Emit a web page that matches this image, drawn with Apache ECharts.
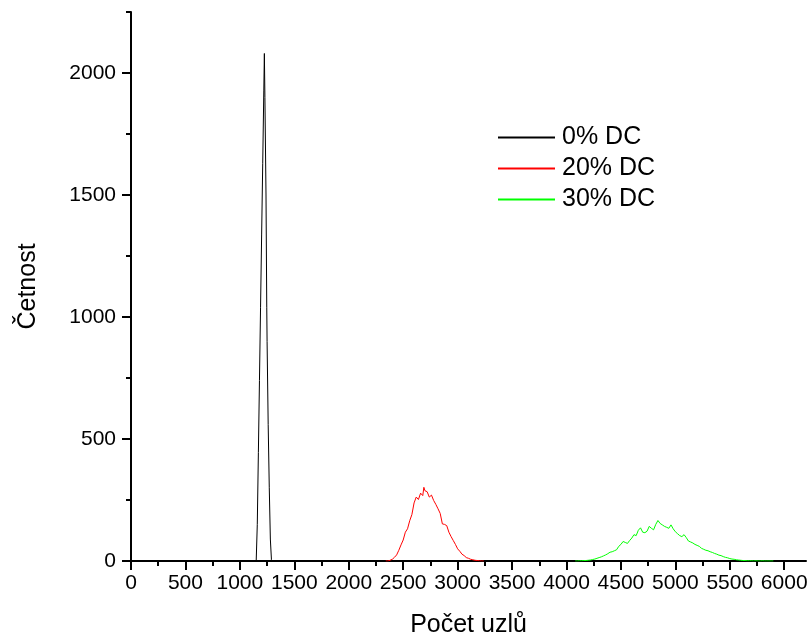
<!DOCTYPE html>
<html><head><meta charset="utf-8">
<script src="https://cdn.jsdelivr.net/npm/echarts@6/dist/echarts.min.js"></script>
<style>html,body{margin:0;padding:0;background:#fff}#c{width:808px;height:641px}</style>
</head><body><div id="c"></div>
<script>
var xMajorTicks = [0,500,1000,1500,2000,2500,3000,3500,4000,4500,5000,5500,6000];
var xMinorTicks = [250,750,1250,1750,2250,2750,3250,3750,4250,4750,5250,5750];
var yMajorTicks = [0,500,1000,1500,2000];
var yMinorTicks = [250,750,1250,1750,2250];
var seriesNames = ['0% DC','20% DC','30% DC'];

var blackX = [1150,1155,1160,1170,1180,1190,1200,1210,1220,1225,1230,1240,1247,1250,1260,1270,1280,1290,1300];
var blackY = [0,2,150,445,740,1040,1340,1630,1930,2080,1900,1500,1040,900,560,300,90,5,0];

var redX = [2340,2360,2380,2400,2420,2440,2460,2480,2500,2520,2540,2560,2580,2600,2620,2640,2660,2680,2690,2700,2720,2740,2760,2780,2800,2820,2840,2860,2880,2900,2920,2940,2960,2980,3000,3020,3040,3060,3080,3100,3120,3140,3160,3180,3200,3220,3240];
var redY = [0,0,3,7,15,25,44,66,86,118,132,165,190,238,262,252,278,268,302,288,284,262,270,248,232,214,195,152,150,145,118,100,84,68,50,40,28,22,14,11,7,5,3,2,1,0,0];

var greenX = [4080,4100,4120,4140,4160,4180,4200,4220,4240,4260,4280,4300,4320,4340,4360,4380,4400,4420,4440,4460,4480,4500,4520,4540,4560,4580,4600,4620,4640,4660,4680,4700,4720,4740,4760,4780,4800,4820,4840,4860,4880,4900,4920,4940,4960,4980,5000,5020,5040,5060,5080,5100,5120,5140,5160,5180,5200,5220,5240,5260,5280,5300,5320,5340,5360,5380,5400,5420,5440,5460,5480,5500,5520,5540,5560,5580,5600,5620,5640,5660,5680,5700,5720,5740,5760,5780,5800,5820,5840,5860,5880,5900];
var greenY = [0,0,1,1,2,2,3,4,6,8,11,14,17,21,25,30,36,38,42,46,60,68,80,76,72,84,94,108,104,126,136,118,116,122,142,134,128,150,166,154,148,142,138,134,148,132,120,112,104,100,108,96,82,78,74,68,64,60,52,48,44,42,38,35,31,28,24,22,18,15,13,10,8,7,5,4,3,2,2,1,1,1,0,1,0,0,1,0,0,0,0,0];

function pairs(xs, ys) { var out = []; for (var i = 0; i < xs.length; i++) out.push([xs[i], ys[i]]); return out; }
function plain(v) { return String(v); }

var FONT = 'Liberation Sans, Arial, sans-serif';
var chart = echarts.init(document.getElementById('c'), null, {renderer: 'canvas'});
chart.setOption({
  animation: false,
  backgroundColor: '#fff',
  grid: {left: 131, right: 2, top: 12, bottom: 80, containLabel: false, outerBoundsMode: 'none'},
  legend: {
    data: seriesNames, orient: 'vertical', left: 493, top: 120,
    icon: 'rect', itemWidth: 57, itemHeight: 2, itemGap: 6,
    textStyle: {fontSize: 25, color: '#000', fontFamily: FONT, padding: [0, 0, 0, 2]}
  },
  xAxis: [{
    type: 'value', min: 0, max: 6200, position: 'bottom',
    name: 'Počet uzlů', nameLocation: 'middle', nameGap: 52,
    nameTextStyle: {fontSize: 25, color: '#000', fontFamily: FONT},
    axisLine: {show: true, onZero: false, lineStyle: {color: '#000', width: 2}},
    axisTick: {show: true, inside: false, length: 9, customValues: xMajorTicks, lineStyle: {color: '#000', width: 2}},
    axisLabel: {customValues: xMajorTicks, formatter: plain, fontSize: 21, color: '#000', fontFamily: FONT, margin: 12},
    splitLine: {show: false}
  }, {
    type: 'value', min: 0, max: 6200, position: 'bottom', gridIndex: 0,
    axisLine: {show: false},
    axisTick: {show: true, inside: false, length: 5, customValues: xMinorTicks, lineStyle: {color: '#000', width: 2}},
    axisLabel: {show: false},
    splitLine: {show: false}
  }],
  yAxis: [{
    type: 'value', min: 0, max: 2250, position: 'left',
    name: 'Četnost', nameLocation: 'middle', nameGap: 90, nameRotate: 90,
    nameTextStyle: {fontSize: 25, color: '#000', fontFamily: FONT},
    axisLine: {show: true, onZero: false, lineStyle: {color: '#000', width: 2}},
    axisTick: {show: true, inside: false, length: 9, customValues: yMajorTicks, lineStyle: {color: '#000', width: 2}},
    axisLabel: {customValues: yMajorTicks, formatter: plain, fontSize: 21, color: '#000', fontFamily: FONT, margin: 15},
    splitLine: {show: false}
  }, {
    type: 'value', min: 0, max: 2250, position: 'left', gridIndex: 0,
    axisLine: {show: false},
    axisTick: {show: true, inside: false, length: 5, customValues: yMinorTicks, lineStyle: {color: '#000', width: 2}},
    axisLabel: {show: false},
    splitLine: {show: false}
  }],
  series: [
    {name: seriesNames[0], type: 'line', data: pairs(blackX, blackY), symbol: 'none', lineStyle: {color: '#000', width: 1}, itemStyle: {color: '#000'}, xAxisIndex: 0, yAxisIndex: 0},
    {name: seriesNames[1], type: 'line', data: pairs(redX, redY), symbol: 'none', lineStyle: {color: '#ff0000', width: 1}, itemStyle: {color: '#ff0000'}, xAxisIndex: 0, yAxisIndex: 0},
    {name: seriesNames[2], type: 'line', data: pairs(greenX, greenY), symbol: 'none', lineStyle: {color: '#00ff00', width: 1}, itemStyle: {color: '#00ff00'}, xAxisIndex: 0, yAxisIndex: 0}
  ]
});
</script></body></html>
